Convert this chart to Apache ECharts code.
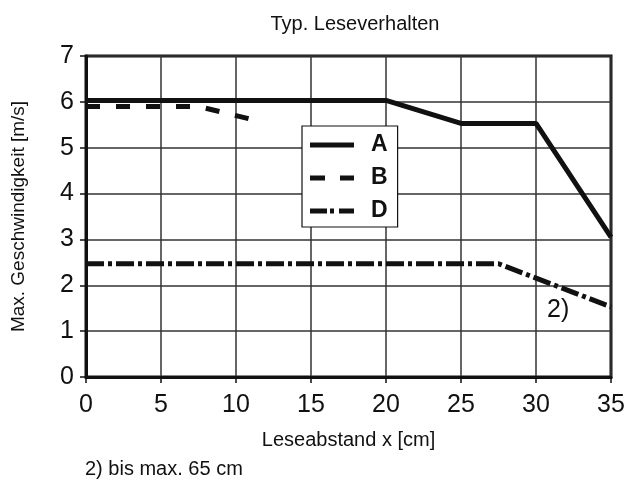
<!DOCTYPE html>
<html><head><meta charset="utf-8">
<script src="https://cdn.jsdelivr.net/npm/echarts@6/dist/echarts.min.js"></script>
<style>html,body{margin:0;padding:0;background:#fff}#c{width:637px;height:481px}</style>
</head><body><div id="c"></div>
<script>
const title = "Typ. Leseverhalten";
const xName = "Leseabstand x [cm]";
const yName = "Max. Geschwindigkeit [m/s]";
const footnote = "2) bis max. 65 cm";
const seriesNames = ["A", "B", "D"];
const aData = [[0, 6.03], [20, 6.03], [25, 5.53], [30, 5.53], [35, 3.05]];
const bData = [[0, 5.9], [7.5, 5.9], [11, 5.62]];
const dData = [[0, 2.47], [27.5, 2.47], [35, 1.53]];

const chart = echarts.init(document.getElementById('c'), null, {renderer: 'canvas'});
const font = 'Liberation Sans, Arial, sans-serif';
const iconA = 'path://M0,0H44V5H0Z';
const iconB = 'path://M0,0H15V5H0ZM30,0H44V5H30Z';
const iconD = 'path://M0,0H17V5H0ZM20,0H24V5H20ZM29,0H44V5H29Z';
chart.setOption({
  animation: false,
  backgroundColor: '#fff',
  title: {text: title, left: 350, textAlign: 'center', top: 9,
    textStyle: {fontFamily: font, fontSize: 20, fontWeight: 'normal', color: '#111'}},
  grid: {left: 86, right: 26, top: 56, bottom: 104, show: true, borderColor: '#111', borderWidth: 3, containLabel: false},
  legend: {
    orient: 'vertical', left: 302, top: 126,
    padding: [7, 10, 4, 8], itemGap: 9, itemWidth: 44, itemHeight: 5,
    backgroundColor: '#fff', borderColor: '#111', borderWidth: 1.2,
    textStyle: {fontFamily: font, fontSize: 23, fontWeight: 'bold', color: '#111', padding: [0, 0, 0, 12], lineHeight: 24},
    data: [
      {name: seriesNames[0], icon: iconA},
      {name: seriesNames[1], icon: iconB},
      {name: seriesNames[2], icon: iconD}
    ]
  },
  xAxis: {type: 'value', min: 0, max: 35, interval: 5,
    name: xName, nameLocation: 'middle', nameGap: 53,
    nameTextStyle: {fontFamily: font, fontSize: 20, color: '#111'},
    axisLine: {show: true, lineStyle: {color: '#111', width: 3}},
    axisTick: {show: true, length: 6, lineStyle: {color: '#111', width: 1.5}},
    axisLabel: {fontFamily: font, fontSize: 25, color: '#111', margin: 16},
    splitLine: {show: true, lineStyle: {color: '#333', width: 1.5}}},
  yAxis: {type: 'value', min: 0, max: 7, interval: 1,
    name: yName, nameLocation: 'middle', nameGap: 58, nameRotate: 90,
    nameTextStyle: {fontFamily: font, fontSize: 19, color: '#111'},
    axisLine: {show: true, lineStyle: {color: '#111', width: 3}},
    axisTick: {show: true, length: 6, lineStyle: {color: '#111', width: 1.5}},
    axisLabel: {fontFamily: font, fontSize: 25, color: '#111', margin: 12},
    splitLine: {show: true, lineStyle: {color: '#333', width: 1.5}}},
  series: [
    {name: seriesNames[0], type: 'line', data: aData, symbol: 'none', z: 5,
      lineStyle: {color: '#111', width: 5, type: 'solid'}, itemStyle: {color: '#111'}},
    {name: seriesNames[1], type: 'line', data: bData, symbol: 'none', z: 4,
      lineStyle: {color: '#111', width: 5, type: [14, 16]}, itemStyle: {color: '#111'}},
    {name: seriesNames[2], type: 'line', data: dData, symbol: 'none', z: 4,
      lineStyle: {color: '#111', width: 5, type: [18, 4, 4, 4]}, itemStyle: {color: '#111'}}
  ],
  graphic: [
    {type: 'text', left: 547, top: 298, style: {text: '2)', fontFamily: font, fontSize: 25, fill: '#111'}},
    {type: 'text', left: 85, top: 459, style: {text: footnote, fontFamily: font, fontSize: 20, fill: '#111'}}
  ]
});
</script></body></html>
